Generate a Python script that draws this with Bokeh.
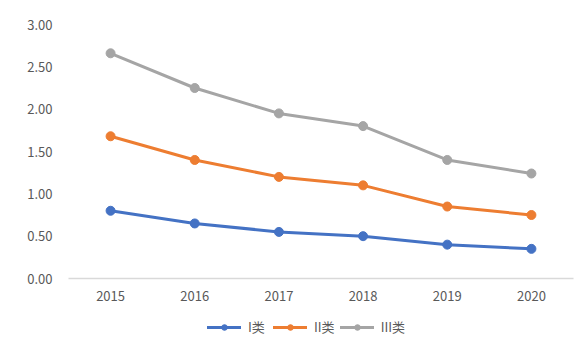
from bokeh.plotting import figure
from bokeh.models import Range1d, FixedTicker, NumeralTickFormatter, Legend, LegendItem, FactorRange
from bokeh.layouts import column
from bokeh.embed import file_html
from bokeh.resources import INLINE

years = ["2015", "2016", "2017", "2018", "2019", "2020"]
series_names = ["I类", "II类", "III类"]
s1 = [0.80, 0.65, 0.55, 0.50, 0.40, 0.35]
s2 = [1.68, 1.40, 1.20, 1.10, 0.85, 0.75]
s3 = [2.66, 2.25, 1.95, 1.80, 1.40, 1.24]
colors = ["#4472C4", "#ED7D31", "#A5A5A5"]
y_ticks = [0, 0.5, 1.0, 1.5, 2.0, 2.5, 3.0]

FONT = "Noto Sans CJK SC"

p = figure(width=588, height=310, x_range=FactorRange(*years, range_padding=0),
           y_range=Range1d(0, 3), output_backend="svg", toolbar_location=None,
           min_border_left=68, min_border_right=15, min_border_top=24, min_border_bottom=32)
p.outline_line_color = None
p.background_fill_color = "white"
p.border_fill_color = "white"
p.xgrid.grid_line_color = None
p.ygrid.grid_line_color = None

# second strip holding only the legend (same series, kept outside its visible y-range)
p2 = figure(width=588, height=40, x_range=FactorRange(*years, range_padding=0),
            y_range=Range1d(10, 11), output_backend="svg", toolbar_location=None,
            x_axis_location=None, y_axis_location=None,
            min_border_left=0, min_border_right=0, min_border_top=0, min_border_bottom=0)
p2.outline_line_color = None
p2.background_fill_color = "white"
p2.border_fill_color = "white"
p2.xgrid.grid_line_color = None
p2.ygrid.grid_line_color = None

items = []
for name, vals, c in zip(series_names, [s1, s2, s3], colors):
    p.line(years, vals, line_color=c, line_width=3, line_join="round", line_cap="round")
    p.scatter(years, vals, size=9, fill_color=c, line_color=c)
    q1 = p2.line(years, vals, line_color=c, line_width=3, line_join="round", line_cap="round")
    q2 = p2.scatter(years, vals, size=9, fill_color=c, line_color=c)
    items.append(LegendItem(label=name, renderers=[q1, q2]))

yax = p.yaxis[0]
yax.ticker = FixedTicker(ticks=y_ticks)
yax.formatter = NumeralTickFormatter(format="0.00")
yax.axis_line_color = None
yax.major_tick_line_color = None
yax.minor_tick_line_color = None
yax.major_tick_out = 0
yax.major_label_standoff = 16
yax.major_label_text_font = FONT
yax.major_label_text_font_size = "13px"
yax.major_label_text_color = "#595959"

xax = p.xaxis[0]
xax.axis_line_color = "#D9D9D9"
xax.axis_line_width = 1.5
xax.major_tick_line_color = None
xax.minor_tick_line_color = None
xax.major_tick_out = 0
xax.major_label_standoff = 12
xax.major_label_text_font = FONT
xax.major_label_text_font_size = "13px"
xax.major_label_text_color = "#595959"

legend = Legend(items=items, orientation="horizontal", location=(139, 14),
                glyph_width=34, glyph_height=14, label_standoff=7, spacing=5,
                label_text_font=FONT, label_text_font_size="13px",
                label_text_color="#595959", border_line_color=None,
                background_fill_alpha=0, padding=0, margin=0)
p2.add_layout(legend, "center")

layout = column(p, p2, spacing=0)
open("out.html", "w").write(file_html(layout, INLINE))
